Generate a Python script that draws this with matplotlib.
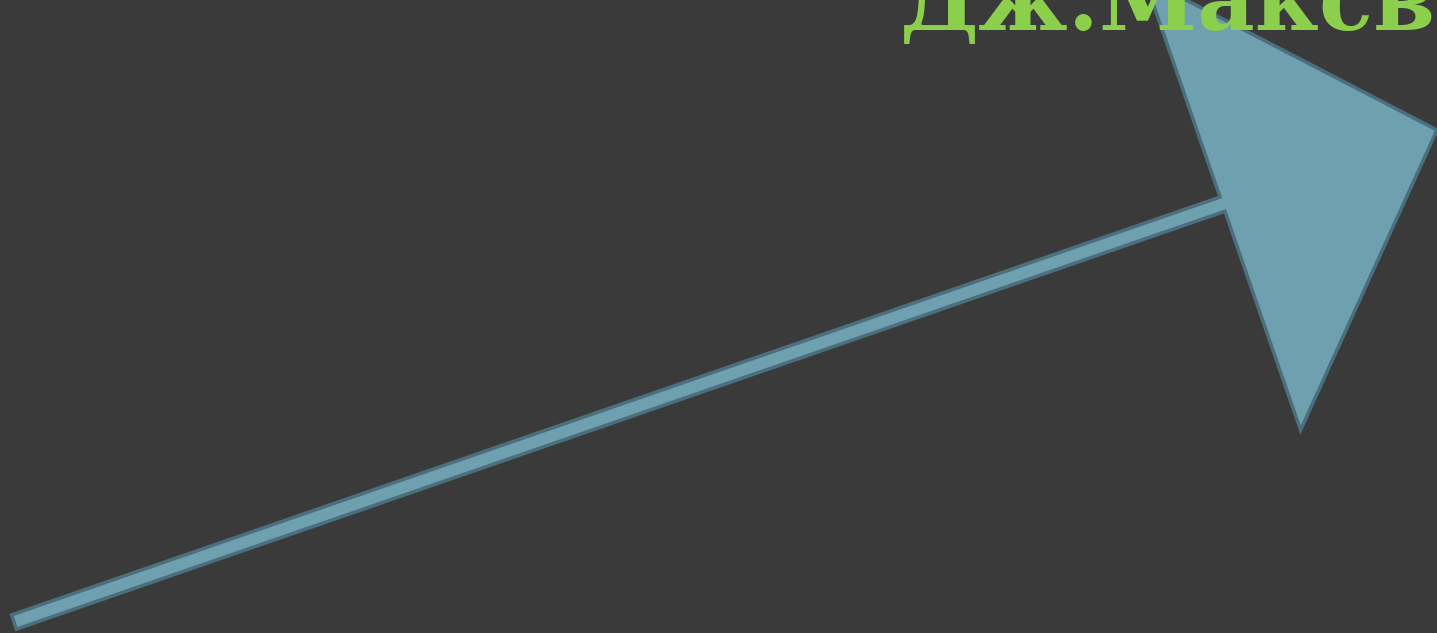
import matplotlib
matplotlib.use("Agg")
from matplotlib import pyplot as plt
from matplotlib.patches import FancyArrow

# canvas in pixel units
canvas_w = 1437
canvas_h = 633

# arrow: tail and tip (pixel coords, y downwards), sizes
arrow_tail = [14, 622]
arrow_tip = [1437, 130]
shaft_width = 15
head_width = 478
head_length = 227

title_text = "Дж.Максвелл"
title_pos = [900, 30]

bg = "#3a3a3a"

fig = plt.figure(figsize=(canvas_w / 100, canvas_h / 100), dpi=100, facecolor=bg)
ax = fig.add_axes([0, 0, 1, 1])
ax.set_facecolor(bg)
ax.set_xlim(0, canvas_w)
ax.set_ylim(canvas_h, 0)
ax.axis("off")

arr = FancyArrow(
    arrow_tail[0], arrow_tail[1],
    arrow_tip[0] - arrow_tail[0], arrow_tip[1] - arrow_tail[1],
    width=shaft_width, head_width=head_width, head_length=head_length,
    length_includes_head=True,
    facecolor="#6fa0b0", edgecolor="#4b6f7d", linewidth=2.5, zorder=2,
)
ax.add_patch(arr)

ax.text(title_pos[0], title_pos[1], title_text, color="#8ccf4d",
        fontsize=64, fontweight="bold", family="DejaVu Serif",
        ha="left", va="baseline", zorder=3)

fig.savefig("out.png", dpi=100, facecolor=bg)
